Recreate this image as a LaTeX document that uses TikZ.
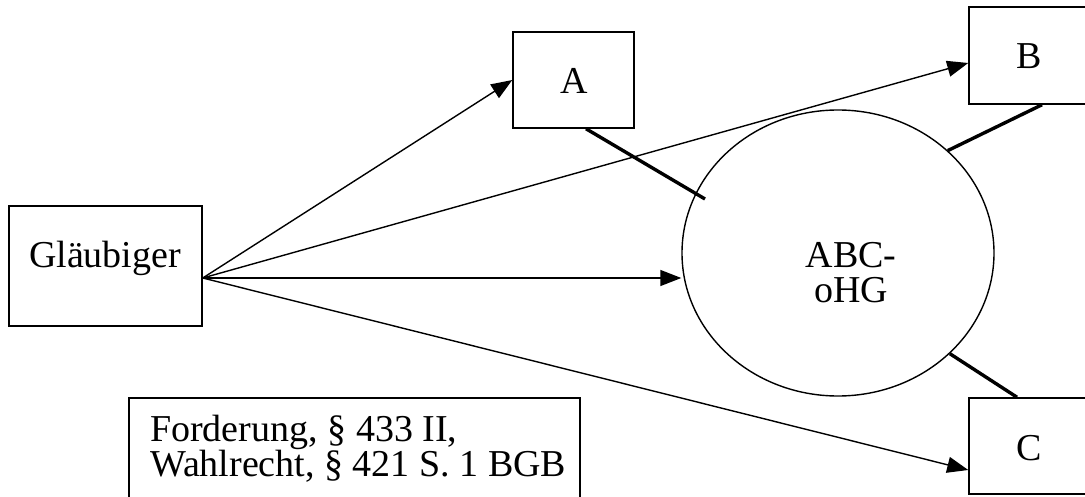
\documentclass[tikz,border=0pt]{standalone}
\usepackage{fontspec}
\setmainfont{Liberation Serif}
\usetikzlibrary{arrows.meta,shapes.geometric}
\begin{document}
\begin{tikzpicture}[x=1pt,y=-1pt,
  box/.style={draw,line width=1.5pt,rectangle,inner sep=0pt},
  lbl/.style={font=\fontsize{38}{35}\selectfont,inner sep=0pt,anchor=base},
  arr/.style={line width=1.4pt,-{Triangle[length=21pt,width=16pt]}},
  tie/.style={line width=3.4pt}]
\useasboundingbox (0,0) rectangle (1085,497);
\clip (0,0) rectangle (1085,497);
% boxes
\node[box,minimum width=193pt,minimum height=120pt] (G) at (105.5,266) {};
\node[box,minimum width=121pt,minimum height=96pt] (A) at (573.5,80) {};
\node[box,minimum width=120pt,minimum height=97pt] (B) at (1029,55.5) {};
\node[box,minimum width=120pt,minimum height=96pt] (C) at (1029,446) {};
\node[box,minimum width=451pt,minimum height=120pt] (T) at (354.5,458) {};
\node[draw,ellipse,line width=1.4pt,minimum width=312pt,minimum height=286pt,inner sep=0pt] (E) at (838,253) {};
% texts
\node[lbl] (tG) at (105,268) {Gläubiger};
\node[lbl] (tA) at (574,94) {A};
\node[lbl] (tB) at (1029,69) {B};
\node[lbl] (tC) at (1029,460) {C};
\node[lbl,anchor=center,align=center,font=\fontsize{38}{35}\selectfont] (tE) at (851,272.5) {ABC-\\oHG};
\node[lbl,anchor=north west,align=left] (tT) at (150,415) {Forderung, § 433 II,\\Wahlrecht, § 421 S. 1 BGB};
% arrows
\coordinate (src) at ([yshift=-12pt]G.east);
\draw[arr] (src) -- (A.west);
\draw[arr] (src) -- ([yshift=-7.5pt]B.west);
\draw[arr] (src) -- (src -| E.west);
\draw[arr] (src) -- ([yshift=-24pt]C.west);
% ties
\coordinate (eA) at (705,199);
\draw[tie] ([xshift=12.5pt]A.south) -- (eA);
\draw[tie] ([xshift=13pt]B.south) -- (E.43);
\draw[tie] ([xshift=-12pt]C.north) -- (E.-42);
\end{tikzpicture}
\end{document}
